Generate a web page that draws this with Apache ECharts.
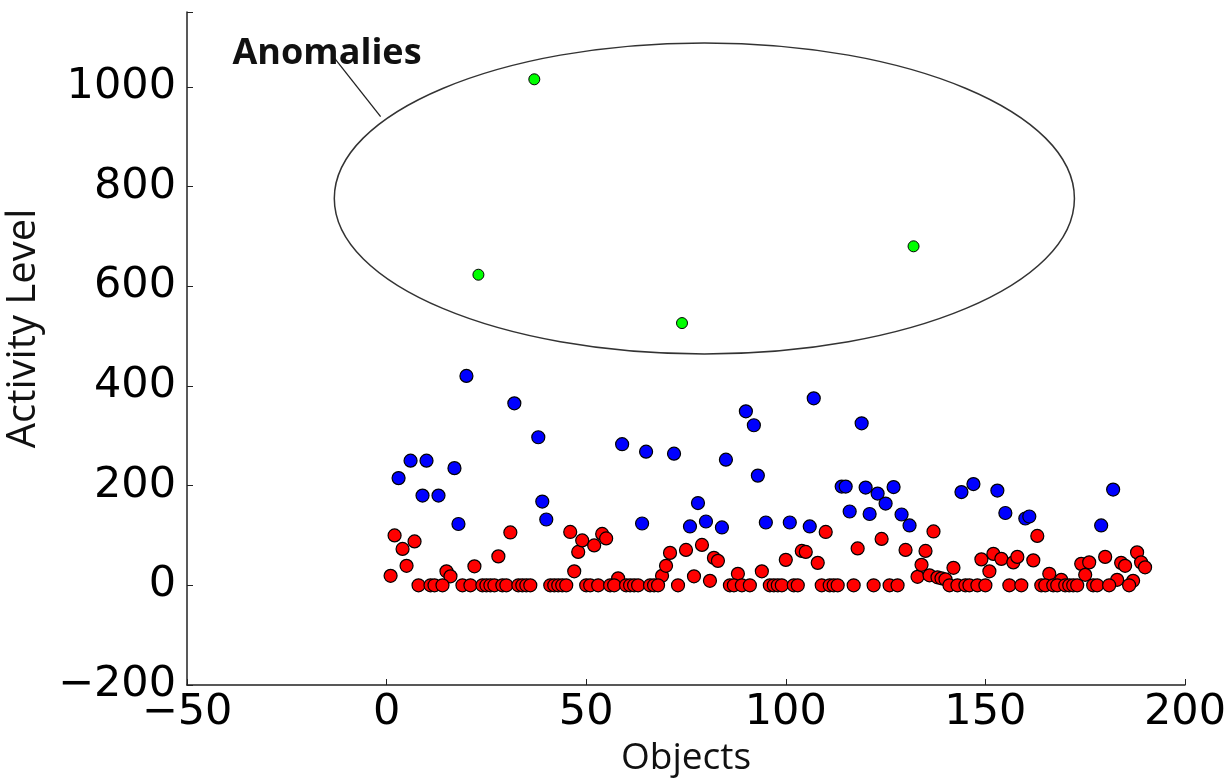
<!DOCTYPE html>
<html>
<head>
<meta charset="utf-8">
<script src="https://cdn.jsdelivr.net/npm/echarts@6/dist/echarts.min.js"></script>
<style>
html,body{margin:0;padding:0;background:#fff;}
#chart{width:1230px;height:778px;}
</style>
</head>
<body>
<div id="chart"></div>
<script>
// ---- data (object index, activity level) ----
const lowActivity = [
  [1,19],[2,100],[4,73],[5,39],[7,88],[15,28],[16,18],[22,38],[28,58],[31,106],
  [46,107],[47,28],[48,67],[49,90],[52,80],[54,103],[55,94],[58,14],[69,19],[70,39],
  [71,65],[75,71],[77,18],[79,81],[81,9],[82,55],[83,49],[88,23],[94,28],[100,51],
  [104,69],[105,67],[108,45],[110,107],[118,74],[124,93],[130,71],[133,17],[134,41],[135,69],
  [136,20],[137,108],[138,16],[139,14],[140,12],[142,35],[149,52],[151,28],[152,63],[154,53],
  [157,46],[158,57],[162,50],[163,99],[166,23],[169,11],[174,43],[175,21],[176,46],[180,57],
  [183,11],[184,45],[185,39],[187,9],[188,66],[189,46],[190,36]
];
const zeroActivityObjects = [
  8,11,12,14,19,21,24,25,26,27,29,30,33,34,35,36,41,42,43,44,45,50,51,53,56,57,
  60,61,62,63,66,67,68,73,86,87,89,91,96,97,98,99,102,103,109,111,112,113,117,122,
  126,128,141,143,145,146,148,150,156,159,164,165,167,168,170,171,172,173,177,178,181,186
];
const highActivity = [
  [3,215],[6,250],[9,180],[10,250],[13,180],[17,235],[18,123],[20,420],[32,365],[38,297],
  [39,168],[40,132],[59,283],[64,124],[65,268],[72,264],[76,118],[78,165],[80,128],[84,116],
  [85,252],[90,349],[92,321],[93,220],[95,126],[101,126],[106,118],[107,375],[114,198],[115,198],
  [116,148],[119,325],[120,196],[121,143],[123,184],[125,164],[127,197],[129,142],[131,120],[144,187],
  [147,203],[153,190],[155,145],[160,134],[161,138],[179,120],[182,192]
];
const anomalies = [[23,623],[37,1015],[74,526],[132,680]];
// annotation: ellipse [centerX, centerY, radiusX, radiusY] in data units, leader line, label
const anomalyEllipse = [[79.6, 776, 92.7, 312]];
const leaderLine = [[-13.5, 1062], [-1.5, 940]];
const annotationLabel = {text: 'Anomalies', at: [-38.6, 1066]};
const xTicks = {min: -50, max: 200, step: 50};
const yTicks = {min: -200, max: 1150, step: 200};

const redData = lowActivity.concat(zeroActivityObjects.map(x => [x, 0]));

const chart = echarts.init(document.getElementById('chart'), null, {renderer: 'canvas'});
const minusFmt = v => (v < 0 ? '\u2212' + Math.abs(v) : String(v));
const tickFont = {fontFamily: 'DejaVu Sans', fontSize: 43, color: '#000'};

chart.setOption({
  backgroundColor: '#fff',
  animation: false,
  grid: {left: 187, right: 45, top: 12, bottom: 93, containLabel: false, outerBoundsMode: 'none'},
  xAxis: {
    type: 'value', min: xTicks.min, max: xTicks.max, interval: xTicks.step,
    name: 'Objects', nameLocation: 'middle', nameGap: 55,
    nameTextStyle: {fontFamily: 'Open Sans', fontSize: 37, color: '#111'},
    axisLine: {onZero: false, lineStyle: {color: '#222', width: 1.5}},
    axisTick: {inside: true, length: 6, lineStyle: {color: '#222', width: 1}},
    axisLabel: Object.assign({margin: 6, formatter: minusFmt}, tickFont),
    splitLine: {show: false}
  },
  yAxis: {
    type: 'value', min: yTicks.min, max: yTicks.max, interval: yTicks.step,
    name: 'Activity Level', nameLocation: 'middle', nameGap: 143, nameRotate: 90,
    nameTextStyle: {fontFamily: 'Open Sans', fontSize: 40, color: '#111', padding: [0, 0, 0, 40]},
    axisLine: {onZero: false, lineStyle: {color: '#222', width: 1.5}},
    axisTick: {inside: true, length: 6, lineStyle: {color: '#222', width: 1}},
    axisLabel: Object.assign({margin: 11, formatter: v => (v % 200 === 0 ? minusFmt(v) : '')}, tickFont),
    splitLine: {show: false}
  },
  series: [
    {
      type: 'scatter', name: 'high', data: highActivity, symbolSize: 13,
      itemStyle: {color: '#0000ff', borderColor: '#000', borderWidth: 1.2, opacity: 1}
    },
    {
      type: 'scatter', name: 'low', data: redData, symbolSize: 13,
      itemStyle: {color: '#ff0000', borderColor: '#000', borderWidth: 1.2, opacity: 1}
    },
    {
      type: 'scatter', name: 'anomaly', data: anomalies, symbolSize: 11,
      itemStyle: {color: '#00ff00', borderColor: '#000', borderWidth: 1, opacity: 1}
    },
    {
      type: 'custom', name: 'annotation', clip: false, silent: true,
      data: anomalyEllipse,
      renderItem: function (params, api) {
        const c = api.coord([api.value(0), api.value(1)]);
        const s = api.size([api.value(2), api.value(3)]);
        const p1 = api.coord(leaderLine[0]);
        const p2 = api.coord(leaderLine[1]);
        const t = api.coord(annotationLabel.at);
        return {
          type: 'group',
          children: [
            {type: 'ellipse', shape: {cx: c[0], cy: c[1], rx: s[0], ry: s[1]},
             style: {fill: 'none', stroke: '#333', lineWidth: 1.5}},
            {type: 'line', shape: {x1: p1[0], y1: p1[1], x2: p2[0], y2: p2[1]},
             style: {stroke: '#222', lineWidth: 1.3}},
            {type: 'text', x: t[0], y: t[1],
             style: {text: annotationLabel.text, fontFamily: 'Open Sans', fontWeight: 'bold',
                     fontSize: 36, fill: '#111', align: 'left', verticalAlign: 'middle'}}
          ]
        };
      }
    }
  ]
});
</script>
</body>
</html>
